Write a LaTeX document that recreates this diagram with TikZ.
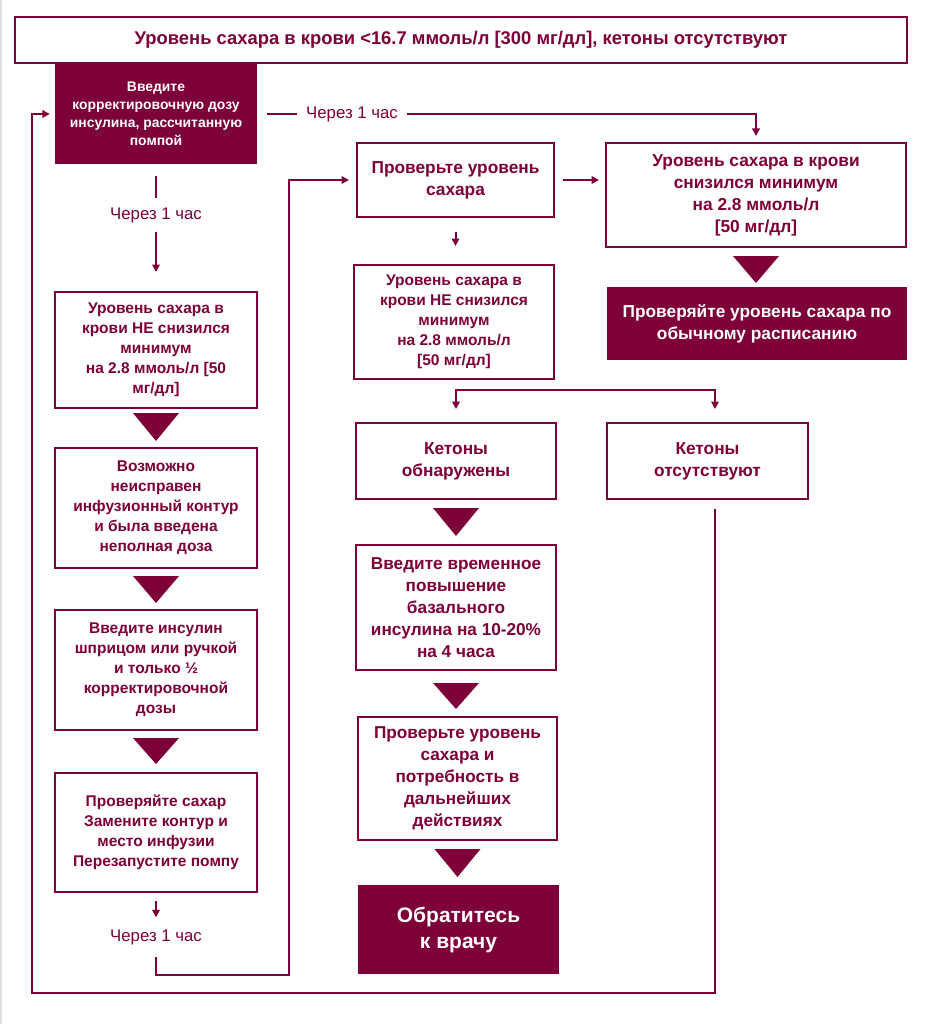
\documentclass[tikz,border=0pt]{standalone}
\usepackage{fontspec}
\setmainfont{Liberation Sans}
\usetikzlibrary{arrows.meta,calc}
\definecolor{mar}{RGB}{125,0,56}
\newcommand{\fsTitle}{\fontsize{18.4}{22}\selectfont\bfseries}
\newcommand{\fsT}{\fontsize{17.3}{22}\selectfont\bfseries}
\newcommand{\fsS}{\fontsize{13.9}{18}\selectfont\bfseries}
\newcommand{\fsL}{\fontsize{15.5}{20}\selectfont\bfseries}
\newcommand{\fsM}{\fontsize{17.2}{22}\selectfont\bfseries}
\newcommand{\fsB}{\fontsize{21}{26}\selectfont\bfseries}
\newcommand{\fsR}{\fontsize{16.8}{20}\selectfont}
\newcommand{\dtri}[3]{\fill[mar] ($(#1.south)+(-23,#2)$) -- ($(#1.south)+(23,#2)$) -- ($(#1.south)+(0,#3)$) -- cycle;}
\tikzset{
  base/.style={align=center, inner sep=0pt, text=mar, font=\fsT},
  obox/.style={base, draw=mar, line width=2pt},
  fbox/.style={base, fill=mar, text=white},
  line/.style={draw=mar, line width=2pt},
  arr/.style={line, -{Triangle[length=7.5pt,width=7.5pt]}},
  lab/.style={text=mar, font=\fsR, fill=white, inner sep=0pt}
}
\begin{document}
\begin{tikzpicture}[x=1pt,y=-1pt]
\useasboundingbox (0,0) rectangle (931,1024);
\fill[white] (0,0) rectangle (931,1024);
\fill[black!12] (0,0) rectangle (2,1024);

% nodes
\node[obox, font=\fsTitle, minimum width=892pt, minimum height=46pt] (title) at (461,40) {Уровень сахара в крови <16.7 ммоль/л [300 мг/дл], кетоны отсутствуют};
\node[fbox, font=\fsS, minimum width=202pt, minimum height=100pt] (b1) at (156,114) {Введите\\корректировочную дозу\\инсулина, рассчитанную\\помпой};
\node[obox, font=\fsL, minimum width=202pt, minimum height=116pt] (b2) at (156,350) {Уровень сахара в\\крови НЕ снизился\\минимум\\на 2.8 ммоль/л [50\\мг/дл]};
\node[obox, font=\fsL, minimum width=202pt, minimum height=120pt] (b3) at (156,508) {Возможно\\неисправен\\инфузионный контур\\и была введена\\неполная доза};
\node[obox, font=\fsL, minimum width=202pt, minimum height=120pt] (b4) at (156,670) {Введите инсулин\\шприцом или ручкой\\и только ½\\корректировочной\\дозы};
\node[obox, font=\fsL, minimum width=202pt, minimum height=119pt] (b5) at (156,832) {Проверяйте сахар\\Замените контур и\\место инфузии\\Перезапустите помпу};
\node[obox, minimum width=197pt, minimum height=74pt] (chk) at (455.5,180) {Проверьте уровень\\сахара};
\node[obox, minimum width=300pt, minimum height=104pt] (rb) at (756,195) {Уровень сахара в крови\\снизился минимум\\на 2.8 ммоль/л\\{}[50 мг/дл]};
\node[fbox, minimum width=300pt, minimum height=73pt] (rf) at (757,323.5) {Проверяйте уровень сахара по\\обычному расписанию};
\node[obox, font=\fsL, minimum width=200pt, minimum height=114pt] (mid) at (454,322) {Уровень сахара в\\крови НЕ снизился\\минимум\\на 2.8 ммоль/л\\{}[50 мг/дл]};
\node[obox, minimum width=200pt, minimum height=76pt] (ket1) at (456,461) {Кетоны\\обнаружены};
\node[obox, minimum width=201pt, minimum height=76pt] (ket2) at (707.5,461) {Кетоны\\отсутствуют};
\node[obox, font=\fsM, minimum width=200pt, minimum height=125pt] (temp) at (456,607.5) {Введите временное\\повышение\\базального\\инсулина на 10-20\%\\на 4 часа};
\node[obox, font=\fsM, minimum width=199pt, minimum height=123pt] (chk2) at (457.5,778.5) {Проверьте уровень\\сахара и\\потребность в\\дальнейших\\действиях};
\node[fbox, font=\fsB, minimum width=201pt, minimum height=89pt] (doc) at (458.5,929.5) {Обратитесь\\к врачу};

% labels
\node[lab, inner xsep=9pt] (l1) at (352,114) {Через 1 час};
\node[lab, inner ysep=9pt] (l2) at (156,215) {Через 1 час};
\node[lab, inner ysep=12pt] (l3) at (156,937) {Через 1 час};

\coordinate (cA) at (289,975);
\coordinate (cB) at (32,993);
\coordinate (cC) at (586,390);

% connectors
\draw[line, shorten <=10pt] (b1.east) -- (l1.west);
\draw[arr, shorten >=6pt] (l1.east) -| (rb.north);
\draw[line, shorten <=12pt] (b1.south) -- (l2.north);
\draw[arr, shorten >=19pt] (l2.south) -- (b2.north);
\draw[arr, shorten <=8pt] (b5.south) -- (l3.north);
\draw[arr, shorten >=7pt] (l3.south) |- (cA) |- (chk.west);
\draw[arr, shorten <=8pt, shorten >=6pt] (chk.east) -- (chk.east -| rb.west);
\draw[arr, shorten <=14pt, shorten >=18pt] (chk.south) -- (chk.south |- mid.north);
\draw[arr, shorten >=13pt] (cC) -| (ket1.north);
\draw[arr, shorten >=13pt] (cC) -| ([xshift=7.5pt]ket2.north);
\draw[arr, shorten <=9pt, shorten >=5pt] ([xshift=7.5pt]ket2.south) |- (cB) |- (b1.west);

% block arrows
\dtri{b2}{4}{32}
\dtri{b3}{7}{34}
\dtri{b4}{7}{33}
\dtri{rb}{8}{35}
\dtri{ket1}{8}{36}
\dtri{temp}{12}{38}
\dtri{chk2}{8}{36}
\end{tikzpicture}
\end{document}
